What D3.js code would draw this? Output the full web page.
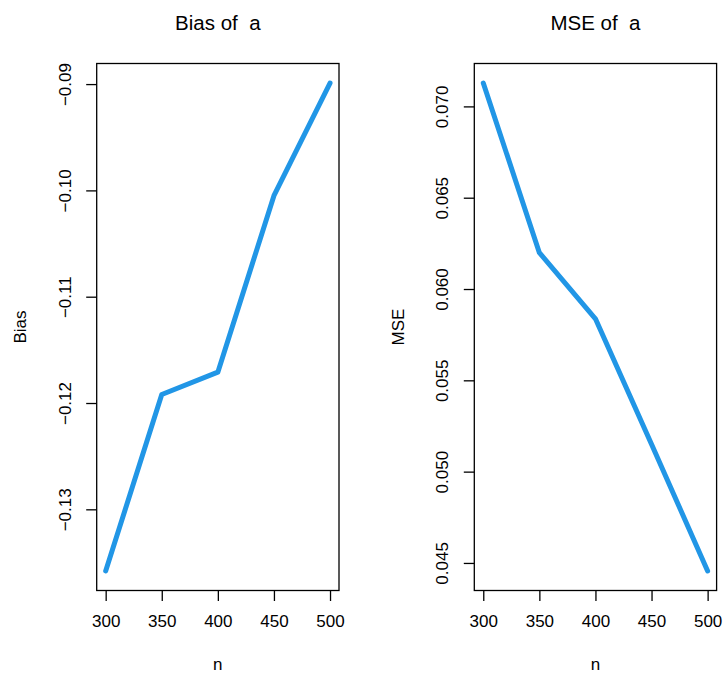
<!DOCTYPE html>
<html>
<head>
<meta charset="utf-8">
<script src="https://cdn.jsdelivr.net/npm/d3@7"></script>
<style>
  body { margin: 0; background: #fff; }
  text { font-family: "Liberation Sans", Arial, Helvetica, sans-serif; fill: #000; }
</style>
</head>
<body>
<svg id="chart" width="724" height="677"></svg>
<script>
let sampleSizes = [300, 350, 400, 450, 500];
let biasValues  = [-0.1358, -0.1192, -0.1171, -0.1005, -0.0899];
let mseValues   = [0.07128, 0.06199, 0.05837, 0.0515, 0.04456];
let xTicks      = [300, 350, 400, 450, 500];
let biasTicks   = [-0.13, -0.12, -0.11, -0.10, -0.09];
let mseTicks    = [0.045, 0.050, 0.055, 0.060, 0.065, 0.070];

let lineColor = "#2196e6";
let svg = d3.select("#chart");

// R style range: extent padded 4% on each side
function rRange(vals) {
	let ext = d3.extent(vals);
	let pad = (ext[1] - ext[0]) * 0.04;
	return [ext[0] - pad, ext[1] + pad];
}

function drawPanel(opts) {
	let top = 63.5, bottom = 590.5;
	let left = opts.left, right = opts.left + 242.3;

	let x = d3.scaleLinear().domain(rRange(sampleSizes)).range([left, right]);
	let y = d3.scaleLinear().domain(rRange(opts.values)).range([bottom, top]);

	let g = svg.append("g");

	// x axis
	let xa = g.append("g")
		.attr("transform", "translate(0," + bottom + ")")
		.call(d3.axisBottom(x).tickValues(xTicks).tickSize(10.5).tickSizeOuter(0).tickPadding(14)
			.tickFormat(d3.format("d")));
	xa.select(".domain").remove();
	xa.selectAll(".tick line").attr("stroke", "#000").attr("stroke-width", 1.3);
	xa.selectAll(".tick text").style("font-size", "17px").attr("fill", "#000");

	// y axis, labels rotated like R's default las=0
	let ya = g.append("g")
		.attr("transform", "translate(" + left + ",0)")
		.call(d3.axisLeft(y).tickValues(opts.ticks).tickSize(10.5).tickSizeOuter(0)
			.tickFormat(opts.fmt));
	ya.select(".domain").remove();
	ya.selectAll(".tick line").attr("stroke", "#000").attr("stroke-width", 1.3);
	ya.selectAll(".tick text")
		.style("font-size", "17px")
		.attr("fill", "#000")
		.attr("transform", "rotate(-90)")
		.attr("x", 0)
		.attr("y", -26)
		.attr("dy", 0)
		.attr("text-anchor", "middle");

	// box
	g.append("rect")
		.attr("x", left).attr("y", top)
		.attr("width", right - left).attr("height", bottom - top)
		.attr("fill", "none").attr("stroke", "#000").attr("stroke-width", 1.3);

	// line
	let line = d3.line()
		.x((d, i) => x(sampleSizes[i]))
		.y((d) => y(d));

	g.append("path")
		.datum(opts.values)
		.attr("d", line)
		.attr("fill", "none")
		.attr("stroke", lineColor)
		.attr("stroke-width", 5)
		.attr("stroke-linecap", "round")
		.attr("stroke-linejoin", "round");

	// title
	g.append("text")
		.attr("x", (left + right) / 2).attr("y", 29.5)
		.attr("text-anchor", "middle")
		.style("font-size", "20.5px")
		.style("white-space", "pre")
		.attr("xml:space", "preserve")
		.text(opts.title);

	// axis titles
	g.append("text")
		.attr("x", (left + right) / 2).attr("y", 670)
		.attr("text-anchor", "middle")
		.style("font-size", "17px")
		.text("n");

	g.append("text")
		.attr("transform", "translate(" + (left - 70.7) + "," + ((top + bottom) / 2) + ") rotate(-90)")
		.attr("text-anchor", "middle")
		.style("font-size", "17px")
		.text(opts.ylab);
}

drawPanel({
	left: 96.7,
	values: biasValues,
	ticks: biasTicks,
	fmt: (d) => d3.format(".2f")(d).replace("-", "\u2212"),
	title: "Bias of  a",
	ylab: "Bias"
});

drawPanel({
	left: 474.3,
	values: mseValues,
	ticks: mseTicks,
	fmt: d3.format(".3f"),
	title: "MSE of  a",
	ylab: "MSE"
});
</script>
</body>
</html>
